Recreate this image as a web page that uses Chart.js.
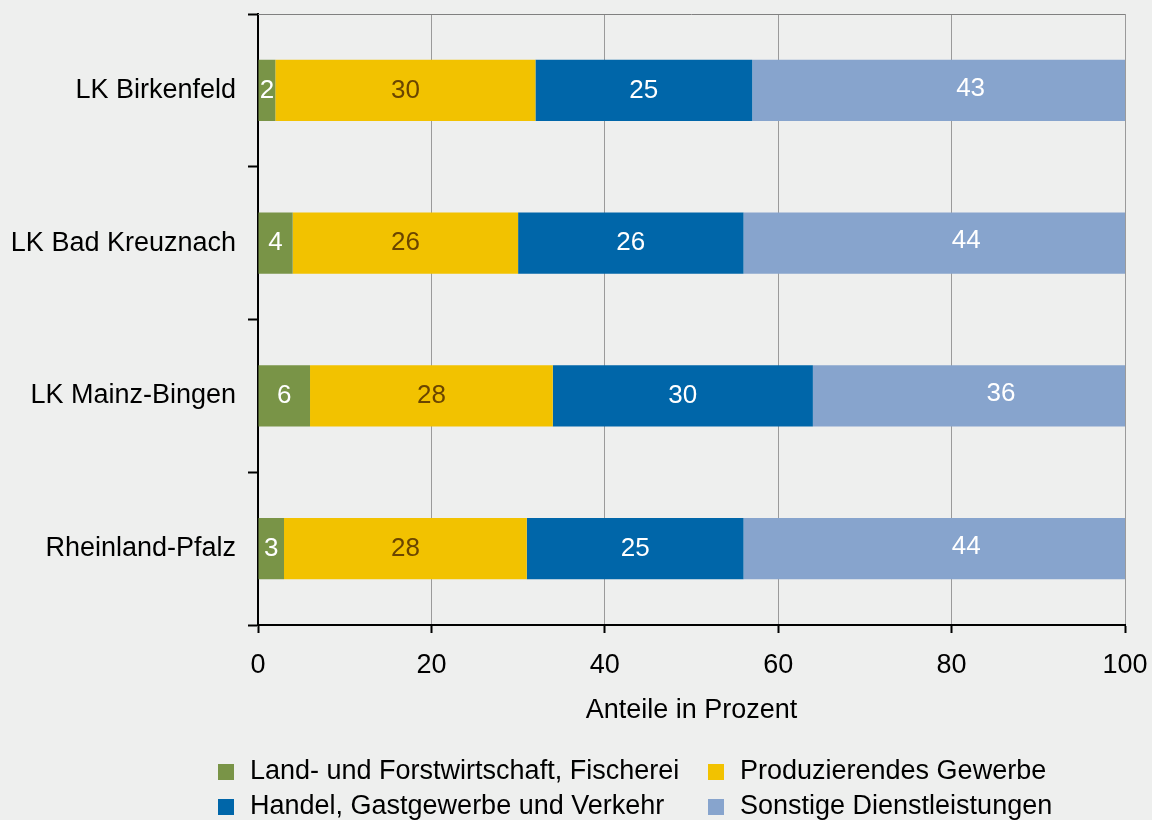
<!DOCTYPE html>
<html>
<head>
<meta charset="utf-8">
<script src="https://cdn.jsdelivr.net/npm/chart.js@4/dist/chart.umd.min.js"></script>
<style>
html,body{margin:0;padding:0;background:#eeefee;}
#wrap{width:1152px;height:820px;}
</style>
</head>
<body>
<div id="wrap"><canvas id="chart" width="1152" height="820"></canvas></div>
<script>
// ===== Daten =====
const regions = ['LK Birkenfeld', 'LK Bad Kreuznach', 'LK Mainz-Bingen', 'Rheinland-Pfalz'];
const seriesNames = [
    'Land- und Forstwirtschaft, Fischerei',
    'Produzierendes Gewerbe',
    'Handel, Gastgewerbe und Verkehr',
    'Sonstige Dienstleistungen'
];
const landForst = [2, 4, 6, 3];
const produzierend = [30, 26, 28, 28];
const handel = [25, 26, 30, 25];
const sonstige = [43, 44, 36, 44];
const xTicks = [0, 20, 40, 60, 80, 100];
const xTitle = 'Anteile in Prozent';

// ===== Stil =====
const colors = ['#799447', '#f2c200', '#0066a9', '#87a4cd'];
const labelColors = ['#ffffff', '#6a4500', '#ffffff', '#ffffff'];
const labelShift = [[0, 0], [0, 0], [0, 0], [32, -2]];
const FONT = '"Liberation Sans", Arial, sans-serif';

// Wertebeschriftung in den Balken
const barLabels = {
    id: 'barLabels',
    afterDatasetsDraw(chart) {
        const ctx = chart.ctx;
        ctx.save();
        ctx.font = '26px ' + FONT;
        ctx.textAlign = 'center';
        ctx.textBaseline = 'middle';
        chart.data.datasets.forEach((ds, i) => {
            chart.getDatasetMeta(i).data.forEach((bar, j) => {
                let x = (bar.x + bar.base) / 2 + labelShift[i][0];
                let y = bar.y + labelShift[i][1];
                ctx.fillStyle = labelColors[i];
                ctx.fillText(String(ds.data[j]), x, y);
            });
        });
        ctx.restore();
    }
};

// obere Rahmenlinie + Legende
const frame = {
    id: 'frame',
    beforeDatasetsDraw(chart) {
        const a = chart.chartArea, ctx = chart.ctx;
        ctx.save();
        ctx.strokeStyle = '#808080';
        ctx.lineWidth = 1;
        ctx.beginPath();
        ctx.moveTo(a.left, a.top + 0.5);
        ctx.lineTo(a.right, a.top + 0.5);
        ctx.stroke();
        ctx.restore();
    },
    afterDraw(chart) {
        const ctx = chart.ctx;
        const pos = [[218, 772], [708, 772], [218, 807], [708, 807]];
        ctx.save();
        ctx.font = '27px ' + FONT;
        ctx.textBaseline = 'middle';
        ctx.textAlign = 'left';
        chart.data.datasets.forEach((ds, i) => {
            let [x, y] = pos[i];
            ctx.fillStyle = ds.backgroundColor;
            ctx.fillRect(x, y - 8, 16, 16);
            ctx.fillStyle = '#000';
            ctx.fillText(ds.label, x + 32, y);
        });
        ctx.restore();
    }
};

const series = [landForst, produzierend, handel, sonstige];

new Chart(document.getElementById('chart'), {
    type: 'bar',
    data: {
        labels: regions,
        datasets: series.map((d, i) => ({
            label: seriesNames[i],
            data: d,
            backgroundColor: colors[i],
            borderWidth: 0,
            categoryPercentage: 1,
            barPercentage: 0.4
        }))
    },
    options: {
        indexAxis: 'y',
        responsive: false,
        animation: false,
        layout: { padding: { left: 0, top: 14, right: 27, bottom: 96 } },
        plugins: { legend: { display: false }, tooltip: { enabled: false } },
        scales: {
            x: {
                stacked: true,
                min: 0, max: 100,
                afterBuildTicks: s => { s.ticks = xTicks.map(v => ({ value: v })); },
                afterFit: s => { s.height = 99; s.paddingLeft = 0; s.paddingRight = 0; },
                grid: { color: '#9a9a9a', lineWidth: 1, tickColor: '#000', tickLength: 8, tickWidth: 2 },
                border: { color: '#000', width: 2 },
                ticks: { color: '#000', font: { family: FONT, size: 27 }, padding: 16, maxRotation: 0 },
                title: { display: true, text: xTitle, color: '#000', font: { family: FONT, size: 27, lineHeight: 1 }, padding: 0 }
            },
            y: {
                stacked: true,
                afterFit: s => { s.width = 258; s.paddingTop = 0; s.paddingBottom = 0; },
                grid: { drawOnChartArea: false, tickColor: '#000', tickLength: 10, tickWidth: 2, offset: true },
                border: { color: '#000', width: 2 },
                ticks: { color: '#000', font: { family: FONT, size: 27 }, padding: 12 }
            }
        }
    },
    plugins: [barLabels, frame]
});
</script>
</body>
</html>
